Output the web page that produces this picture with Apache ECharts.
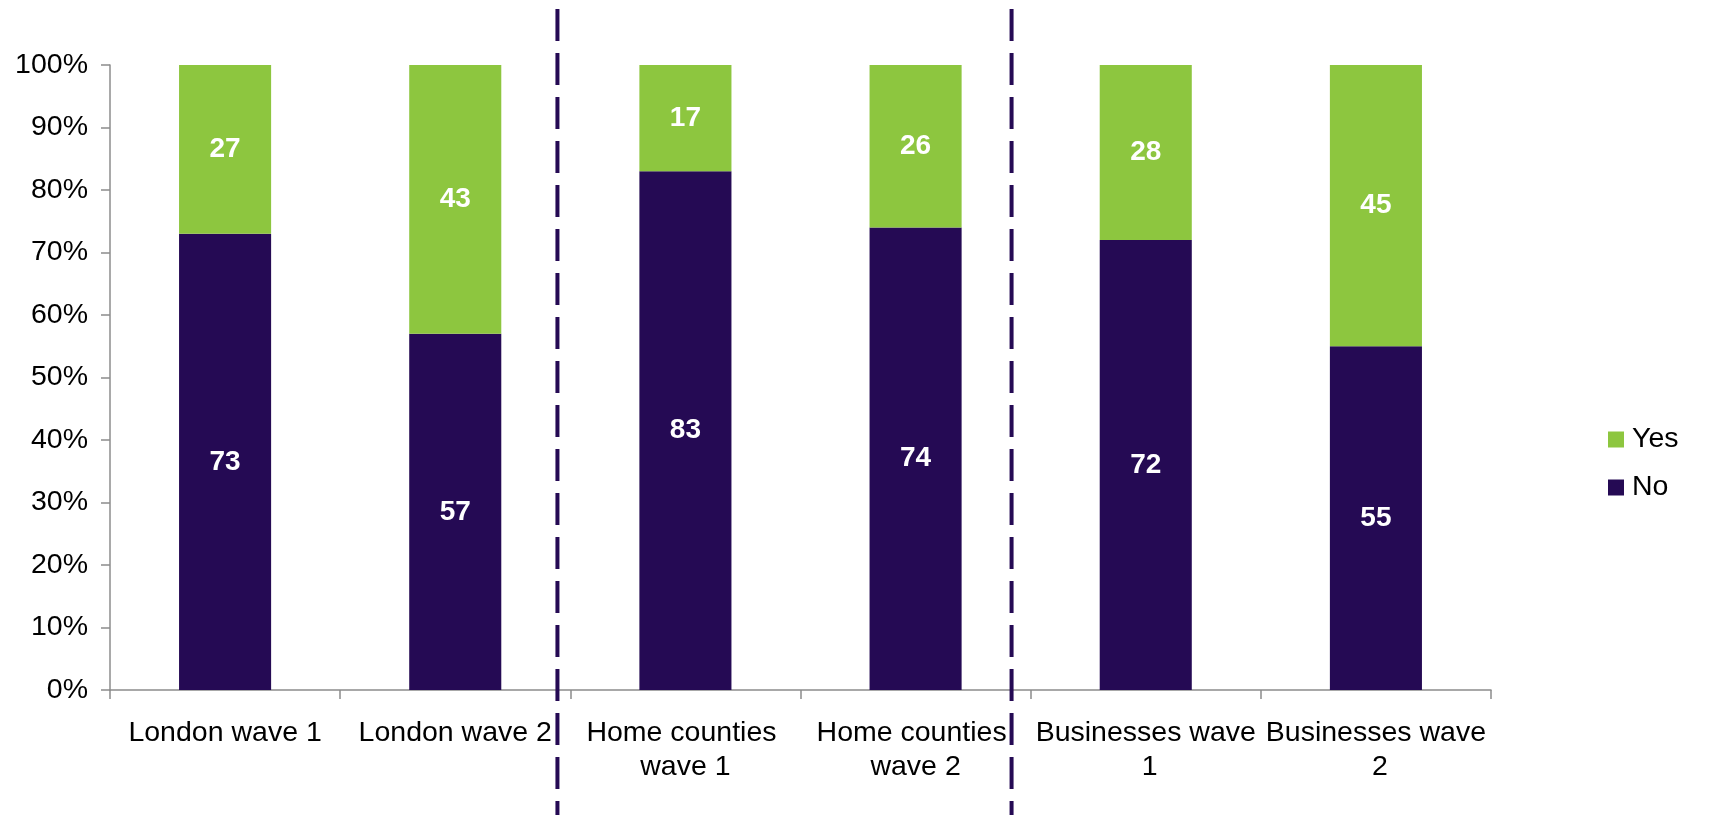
<!DOCTYPE html>
<html>
<head>
<meta charset="utf-8">
<style>
html,body{margin:0;padding:0;background:#fff;}
#chart{width:1732px;height:815px;}
</style>
<script src="https://cdn.jsdelivr.net/npm/echarts@6/dist/echarts.min.js"></script>
</head>
<body>
<div id="chart"></div>
<script>
const categories = ['London wave 1', 'London wave 2', 'Home counties wave 1', 'Home counties wave 2', 'Businesses wave 1', 'Businesses wave 2'];
const noValues = [73, 57, 83, 74, 72, 55];
const yesValues = [27, 43, 17, 26, 28, 45];
const dividerPositions = [1.944, 3.917]; // in category units (category i spans [i, i+1])

const GREEN = '#8DC63F';
const PURPLE = '#250A54';
const FONT = '"Liberation Sans", Arial, sans-serif';

const chart = echarts.init(document.getElementById('chart'));
const labelStyle = {show: true, position: 'inside', color: '#fff', fontWeight: 'bold', fontSize: 28, fontFamily: FONT};

chart.setOption({
  animation: false,
  textStyle: {fontFamily: FONT},
  grid: {left: 110, right: 241, top: 65, bottom: 125},
  legend: {
    orient: 'vertical', left: 1603, top: 420,
    itemWidth: 16, itemHeight: 16, itemGap: 19,
    icon: 'rect',
    data: ['Yes', 'No'],
    textStyle: {fontSize: 28.5, color: '#000', fontFamily: FONT, padding: [0, 0, 0, 3]}
  },
  xAxis: [{
    type: 'category', data: categories,
    axisLine: {lineStyle: {color: '#8c8c8c', width: 1.5}},
    axisTick: {show: true, length: 9, lineStyle: {color: '#8c8c8c', width: 1.5}},
    axisLabel: {interval: 0, color: '#000', fontSize: 28.5, fontFamily: FONT, margin: 26, lineHeight: 34, width: 228, overflow: 'break'}
  }, {
    type: 'value', min: 0, max: 6, show: false
  }],
  yAxis: {
    type: 'value', min: 0, max: 100, interval: 10,
    axisLine: {show: true, lineStyle: {color: '#8c8c8c', width: 1.5}},
    axisTick: {show: true, length: 9, lineStyle: {color: '#8c8c8c', width: 1.5}},
    splitLine: {show: false},
    axisLabel: {formatter: '{value}%', color: '#000', fontSize: 28.5, fontFamily: FONT, margin: 22}
  },
  series: [
    {name: 'No', type: 'bar', stack: 'total', data: noValues, barWidth: '40%', itemStyle: {color: PURPLE}, label: labelStyle},
    {name: 'Yes', type: 'bar', stack: 'total', data: yesValues, barWidth: '40%', itemStyle: {color: GREEN}, label: labelStyle}
  ]
});

const dividers = dividerPositions.map(function (v) {
  const x = chart.convertToPixel({xAxisIndex: 1}, v);
  return {
    type: 'line', z: 100,
    shape: {x1: x, y1: 9, x2: x, y2: 815},
    style: {stroke: PURPLE, lineWidth: 4, lineDash: [32, 12]}
  };
});
chart.setOption({graphic: dividers});
</script>
</body>
</html>
